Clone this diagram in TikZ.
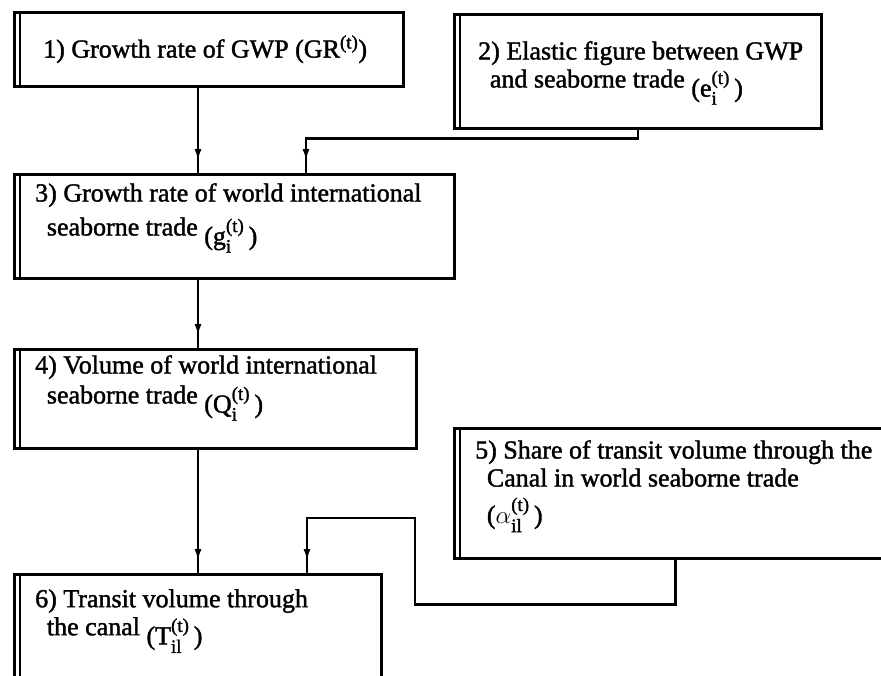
\documentclass[tikz,border=0pt]{standalone}
\usepackage{fontspec}
\usepackage{amsmath}
\setmainfont{Liberation Serif}
\newfontfamily\scanfont[FakeBold=1.5]{Liberation Serif}
\usetikzlibrary{positioning,arrows.meta,decorations.markings}
\newcommand{\scr}[1]{\text{\fontsize{19}{19}\selectfont #1}}
\newcommand{\tvar}[2]{\raisebox{-.35em}{($\text{#1}^{\scr{(t)}}_{\scr{#2}}$\,)}}

\begin{document}
\begin{tikzpicture}[x=1pt,y=-1pt,
    stage/.style={draw, rectangle, line width=2.5pt, anchor=north west, inner sep=0pt},
    txt/.style={align=left, inner sep=0pt, font=\scanfont\fontsize{26}{28}\selectfont},
    flow/.style={line width=2.5pt, postaction={decorate},
      decoration={markings, mark=at position -12pt with {\arrow{Latex[length=12pt,width=7pt]}}}}]
  \useasboundingbox (0,0) rectangle (881,675);
  \clip (0,0) rectangle (881,675);
  % boxes
  \node (gwp) [stage, minimum width=389pt, minimum height=74pt] at (13,11) {};
  \node (elast) [stage, minimum width=367pt, minimum height=114pt] at (453,13) {};
  \node (trade) [stage, minimum width=440pt, minimum height=104pt] at (13,173) {};
  \node (volume) [stage, minimum width=402pt, minimum height=99pt] at (13,348) {};
  \node (share) [stage, minimum width=442pt, minimum height=130pt] at (453,427) {};
  \node (transit) [stage, minimum width=367pt, minimum height=140pt] at (13,573) {};
  \foreach \n in {gwp,elast,trade,volume,share,transit}
    \draw[line width=2.5pt] ([xshift=7pt]\n.north west) -- ([xshift=7pt]\n.south west);
  % labels
  \node (gwp-txt) [txt, anchor=west] at ([xshift=30pt]gwp.west) {1) Growth rate of GWP (GR$^{\scr{(t)}}$)};
  \node (elast-txt) [txt, below right=28pt and 25pt of elast.north west]
    {2) Elastic figure between GWP\\\hspace*{.45em}and seaborne trade \tvar{e}{i}};
  \node (trade-txt) [txt, below right=10pt and 22pt of trade.north west]
    {3) Growth rate of world international\\[6pt]\hspace*{.45em}seaborne trade \tvar{g}{i}};
  \node (volume-txt) [txt, below right=7pt and 22pt of volume.north west]
    {4) Volume of world international\\[2pt]\hspace*{.45em}seaborne trade \tvar{Q}{i}};
  \node (share-txt) [txt, below right=13pt and 22pt of share.north west]
    {5) Share of transit volume through the\\\hspace*{.45em}Canal in world seaborne trade\\[9pt]\hspace*{.45em}($\text{\ensuremath{\alpha}}^{\scr{(t)}}_{\scr{il}}$\,)};
  \node (transit-txt) [txt, below right=16pt and 22pt of transit.north west]
    {6) Transit volume through\\\hspace*{.45em}the canal \tvar{T}{il}};
  % connectors
  \coordinate (mid) at (198,0);
  \draw[flow] (gwp.south -| mid) -- (trade.north -| mid);
  \draw[flow] (elast.south) -- ++(0,9) -| (trade.north -| 306,0);
  \draw[flow] (trade.south -| mid) -- (volume.north -| mid);
  \draw[flow] (volume.south -| mid) -- (transit.north -| mid);
  \draw[flow] (share.south) -- ++(0,45) -| (415,518) -| (transit.north -| 307,0);
\end{tikzpicture}
\end{document}
